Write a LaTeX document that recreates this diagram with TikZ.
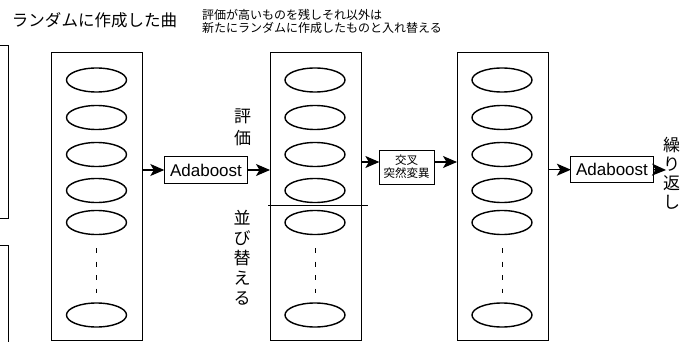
\documentclass[tikz,border=0pt]{standalone}
\usepackage{fontspec}
\setmainfont{Noto Sans CJK JP}
\newfontfamily\lat{Liberation Sans}
\usetikzlibrary{shapes.geometric,arrows.meta}
\tikzset{
  col/.style={draw, line width=0.9pt, rectangle, anchor=north west, minimum width=91pt, minimum height=288.5pt, inner sep=0pt, outer sep=0pt},
  ell/.style={draw, line width=1.4pt, ellipse, minimum width=60pt, minimum height=24pt, inner sep=0pt},
  procbox/.style={draw, line width=1pt, rectangle, inner sep=0pt, outer sep=0pt},
  arr/.style={line width=1.2pt, -{Stealth[length=14pt,width=12pt,inset=3.5pt]}},
  dots/.style={line width=1pt, dash pattern=on 5pt off 8.5pt},
  vtext/.style={align=center, inner sep=0pt, font=\fontsize{17}{20}\selectfont},
}
\begin{document}
\begin{tikzpicture}[x=1pt,y=-1pt]
\useasboundingbox (0,0) rectangle (685,342);
% left fragments
\draw[line width=0.9pt] (0,45) -- (8,45) -- (8,218) -- (0,218);
\draw[line width=0.9pt] (0,245) -- (8,245) -- (8,342);
% titles
\node[inner sep=0pt, font=\fontsize{16.5}{18}\selectfont] (title) at (94.5,20) {ランダムに作成した曲};
\node[inner sep=0pt, anchor=west, align=left, font=\fontsize{12}{13}\selectfont] (note) at (202,21.5) {評価が高いものを残しそれ以外は\\新たにランダムに作成したものと入れ替える};
% columns
\foreach \nm/\xl/\xc in {A/51/96.5, B/270/315, C/457/502} {
  \node[col] (box\nm) at (\xl,52) {};
  \foreach \i/\yc in {1/80, 2/117.5, 3/154.5, 4/190.5, 5/222.5, 6/315} {
    \node[ell] (e\nm\i) at (\xc,\yc) {};
  }
  \coordinate (d\nm1) at (\xc,248);
  \coordinate (d\nm2) at (\xc,293);
  \draw[dots] (d\nm1) -- (d\nm2);
}
% process boxes
\node[procbox, minimum width=83.4pt, minimum height=26.6pt, font=\lat\fontsize{17}{20}\selectfont] (ada1) at (206,170) {Adaboost};
\node[procbox, minimum width=54.7pt, minimum height=34pt, align=center, font=\fontsize{11.5}{13}\selectfont] (cross) at (406.7,167) {交叉\\突然変異};
\node[procbox, minimum width=82.3pt, minimum height=26pt, font=\lat\fontsize{17}{20}\selectfont] (ada2) at (612,169.7) {Adaboost};
% vertical labels
\node[vtext, font=\fontsize{17}{21.5}\selectfont] (hyouka) at (242.5,127.5) {評\\価};
\node[vtext] (narabi) at (242,258) {並\\び\\替\\え\\る};
\node[vtext, font=\fontsize{17}{19}\selectfont] (kuri) at (671.5,173) {繰\\り\\返\\し};
% cut line
\coordinate (cutL) at (268,205.7);
\coordinate (cutR) at (368,205.7);
\draw[line width=0.8pt] (cutL) -- (cutR);
% arrows
\draw[arr] (ada1.west -| boxA.east) -- (ada1.west);
\draw[arr] (ada1.east) -- (ada1.east -| boxB.west);
\draw[arr] ([yshift=5pt]cross.west -| boxB.east) -- ([yshift=5pt]cross.west);
\draw[arr] ([yshift=5pt]cross.east) -- ([yshift=5pt]cross.east -| boxC.west);
\draw[arr] (ada2.west -| boxC.east) -- (ada2.west);
\coordinate (rep) at (666,170);
\draw[arr] (ada2.east) -- (rep);
\end{tikzpicture}
\end{document}
